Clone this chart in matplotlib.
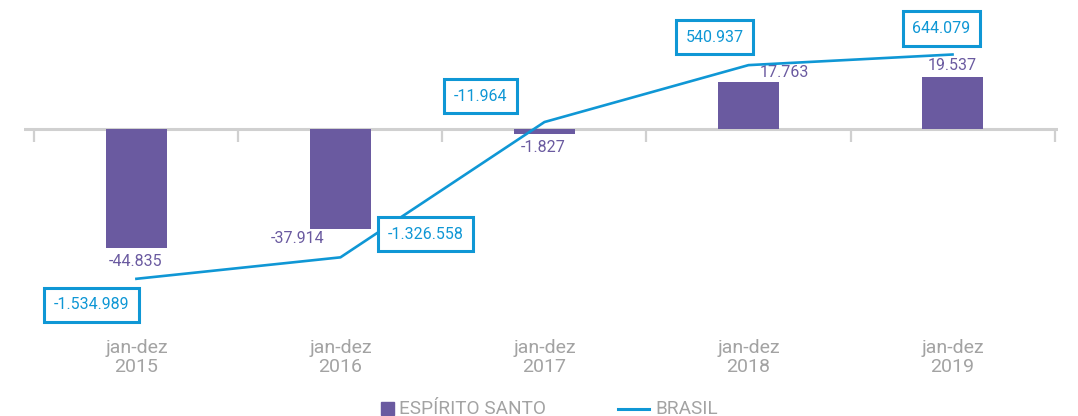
import matplotlib.pyplot as plt
import matplotlib.patches as mpatches
from matplotlib.lines import Line2D
import numpy as np

plt.rcParams['font.family'] = ['Roboto', 'DejaVu Sans']

PURPLE = '#6a5aa0'
BLUE = '#0f97d5'
GREY = '#a3a3a3'
AXIS_GREY = '#d0d0d0'

periods = ['jan-dez\n2015', 'jan-dez\n2016', 'jan-dez\n2017', 'jan-dez\n2018', 'jan-dez\n2019']
espirito_santo = [-44835, -37914, -1827, 17763, 19537]
brasil = [-1534989, -1326558, -11964, 540937, 644079]

es_labels = ['-44.835', '-37.914', '-1.827', '17.763', '19.537']
br_labels = ['-1.534.989', '-1.326.558', '-11.964', '540.937', '644.079']

# label offsets in pixels (x, y-up)
es_offsets = [(-1, -14), (-43, -9), (-1, -14), (36, 9), (0, 11)]
br_offsets = [(-45, -26), (85, 23), (-64, 26), (-34, 28), (-11, 26)]

W, H = 1078, 416
fig = plt.figure(figsize=(W / 100, H / 100), dpi=100)

# axes placed in pixel terms
ax_left, ax_right, ax_top, ax_bottom = 24, 1058, 0, 300
ax = fig.add_axes([ax_left / W, (H - ax_bottom) / H, (ax_right - ax_left) / W, (ax_bottom - ax_top) / H])
ax2 = ax.twinx()

x = np.arange(len(periods))
ax.set_xlim(-0.551, 4.517)

# bar axis: zero at 128.7 px from top, 377 units per px
bar_upp = 377.0
ax.set_ylim(-(ax_bottom - 128.7) * bar_upp, (128.7 - ax_top) * bar_upp)
# line axis: zero at 120.8 px from top, 9715 units per px
line_upp = 9715.0
ax2.set_ylim(-(ax_bottom - 120.8) * line_upp, (120.8 - ax_top) * line_upp)

ax.axhline(0, color=AXIS_GREY, lw=2.2, zorder=1)
ax.vlines(np.arange(len(periods) + 1) - 0.5, -13.5 * bar_upp, 0, color=AXIS_GREY, lw=1.6, zorder=1)

ax.bar(x, espirito_santo, width=0.30, color=PURPLE, zorder=2)
ax2.plot(x, brasil, color=BLUE, lw=1.9, zorder=3)

for xi, v, lab, off in zip(x, espirito_santo, es_labels, es_offsets):
    ax.annotate(lab, (xi, v), xytext=off, textcoords='offset pixels',
                ha='center', va='center', fontsize=11.5, color=PURPLE)

for xi, v, lab, off in zip(x, brasil, br_labels, br_offsets):
    ax2.annotate(lab, (xi, v), xytext=off, textcoords='offset pixels',
                 ha='center', va='center', fontsize=11.5, color=BLUE,
                 bbox=dict(boxstyle='square,pad=0.6', fc='white', ec=BLUE, lw=2.2))

ax.set_xticks(x, periods)
ax.tick_params(axis='x', length=0, pad=28, labelsize=14, labelcolor=GREY)
ax.set_yticks([])
ax2.set_yticks([])
for a in (ax, ax2):
    for s in a.spines.values():
        s.set_visible(False)
ax.patch.set_alpha(0)
ax2.patch.set_alpha(0)
for t in ax.get_xticklabels():
    t.set_linespacing(1.1)

# legend at bottom
fig.patches.append(mpatches.Rectangle((381 / W, (H - 415) / H), 13 / W, 13 / H,
                                      transform=fig.transFigure, color=PURPLE))
fig.text(399 / W, (H - 408.5) / H, 'ESPÍRITO SANTO', fontsize=13.7, color=GREY, va='center', ha='left')
fig.lines.append(Line2D([618 / W, 649 / W], [(H - 408.7) / H] * 2, transform=fig.transFigure,
                        color=BLUE, lw=2.2))
fig.text(655 / W, (H - 408.5) / H, 'BRASIL', fontsize=13.7, color=GREY, va='center', ha='left')

fig.savefig('out.png', dpi=100)
